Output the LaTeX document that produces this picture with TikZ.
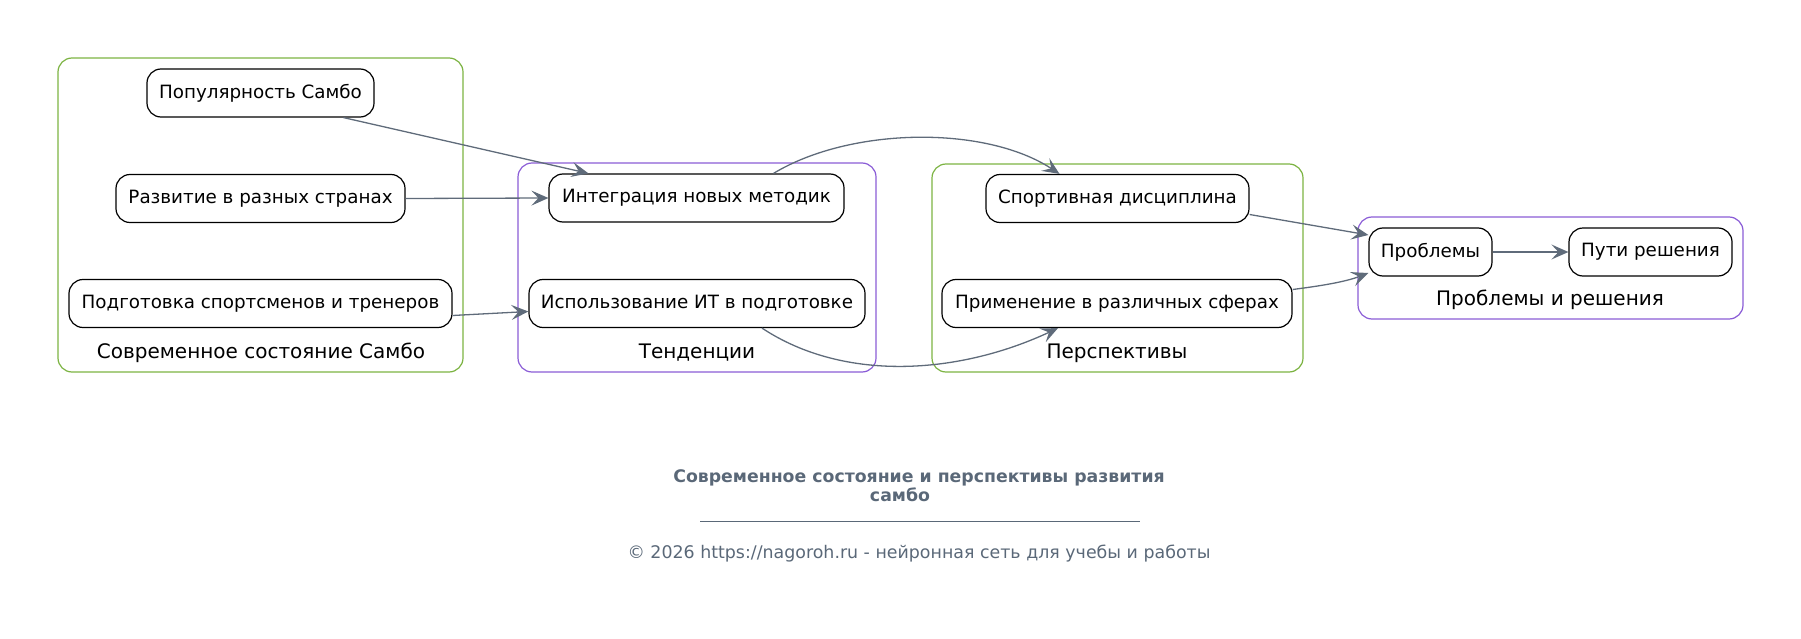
\documentclass[tikz,border=0pt]{standalone}
\usepackage{fontspec}
\setmainfont{DejaVu Sans}
\usetikzlibrary{arrows.meta}
\definecolor{edgec}{HTML}{5F6B7A}
\definecolor{grn}{HTML}{7CB342}
\definecolor{prp}{HTML}{8A5CD6}
\definecolor{foot}{HTML}{5A6878}
\tikzset{
  box/.style={draw=black, line width=1.2pt, rounded corners=14pt, minimum height=48pt, inner sep=0pt, font=\fontsize{18.3}{22}\selectfont, text=black},
  clus/.style={line width=1.2pt, rounded corners=14pt},
  clab/.style={font=\fontsize{20}{24}\selectfont, text=black, inner sep=0pt},
  conn/.style={draw=edgec, line width=1.3pt, -{Stealth[length=17pt,width=15pt,inset=7pt]}},
}
\begin{document}
\begin{tikzpicture}[x=1pt,y=-1pt]
\useasboundingbox (0,0) rectangle (1801,639);
% clusters
\draw[clus, draw=grn] (58,58) rectangle (463,372);
\node[clab] (l1) at (261,353) {Современное состояние Самбо};
\draw[clus, draw=prp] (518,163) rectangle (876,372);
\node[clab] (l2) at (697,353) {Тенденции};
\draw[clus, draw=grn] (932,164) rectangle (1303,372);
\node[clab] (l3) at (1117,353) {Перспективы};
\draw[clus, draw=prp] (1358,217) rectangle (1743,319);
\node[clab] (l4) at (1550,300) {Проблемы и решения};
% nodes
\node[box, minimum width=227pt] (pop) at (260.5,93) {Популярность Самбо};
\node[box, minimum width=289pt] (razv) at (260.5,198.5) {Развитие в разных странах};
\node[box, minimum width=383pt] (podg) at (260.5,303.5) {Подготовка спортсменов и тренеров};
\node[box, minimum width=295pt] (integ) at (696.5,198) {Интеграция новых методик};
\node[box, minimum width=336pt] (ispol) at (697,303.5) {Использование ИТ в подготовке};
\node[box, minimum width=263pt] (sport) at (1117.5,198.5) {Спортивная дисциплина};
\node[box, minimum width=350pt] (prim) at (1117,303.5) {Применение в различных сферах};
\node[box, minimum width=123pt] (prob) at (1430.5,252) {Проблемы};
\node[box, minimum width=163pt] (puti) at (1650.5,252) {Пути решения};
% edges
\draw[conn] ([xshift=83pt]pop.south) -- ([xshift=-108pt]integ.north);
\draw[conn] (razv.east) -- (integ.west);
\draw[conn] ([yshift=-12pt]podg.east) -- ([yshift=-8pt]ispol.west);
\draw[conn] ([xshift=77pt]integ.north) .. controls (850,127) and (985,125) .. ([xshift=-58pt]sport.north);
\draw[conn] ([xshift=65pt]ispol.south) .. controls (845,383) and (960,374) .. ([xshift=-59pt]prim.south);
\draw[conn] ([yshift=-16pt]sport.east) -- ([yshift=17pt]prob.west);
\draw[conn] ([yshift=14pt]prim.east) .. controls (1320,286) and (1345,282) .. ([yshift=-21pt]prob.west);
\draw[conn] (prob.east) -- (puti.west);
% footer
\node[font=\fontsize{17.3}{19.5}\selectfont\bfseries, text=foot, align=center, inner sep=0pt] (title) at (919,485.5) {Современное состояние и перспективы развития\\самбо\hspace*{38pt}};
\draw[foot, line width=0.8pt] (700,521) -- (1140,521);
\node[font=\fontsize{17.4}{20}\selectfont, text=foot, inner sep=0pt] (copy) at (919,554) {© 2026 https://nagoroh.ru - нейронная сеть для учебы и работы};
\end{tikzpicture}
\end{document}
